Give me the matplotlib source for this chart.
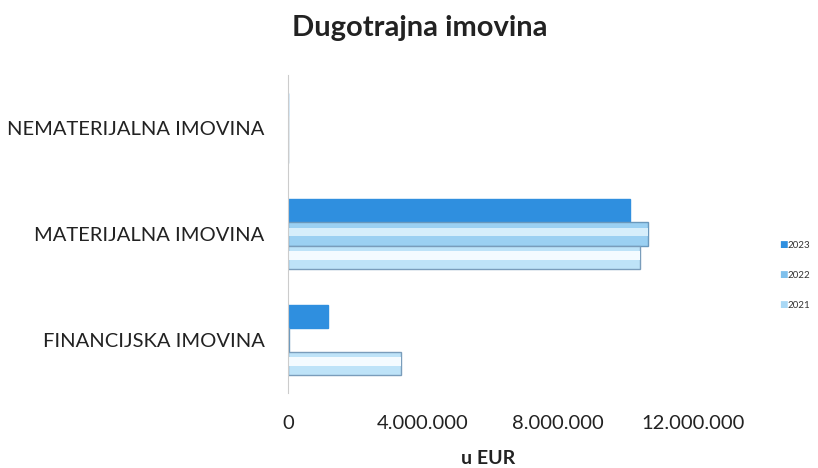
import matplotlib
matplotlib.use("Agg")
import matplotlib.pyplot as plt
import numpy as np

categories = ["FINANCIJSKA IMOVINA", "MATERIJALNA IMOVINA", "NEMATERIJALNA IMOVINA"]
years = ["2023", "2022", "2021"]
values_2023 = [1180000, 10130000, 5000]
values_2022 = [25000, 10670000, 5000]
values_2021 = [3350000, 10430000, 5000]
xticks = [0, 4000000, 8000000, 12000000]
xtick_labels = ["0", "4.000.000", "8.000.000", "12.000.000"]

plt.rcParams['font.family'] = ['Lato', 'DejaVu Sans']

fig = plt.figure(figsize=(8.18, 4.68), dpi=100)
ax = fig.add_axes([288/818, 1-393/468, (693-288)/818, (393-75)/468])

y = np.arange(len(categories))
h = 0.222
series = [
    (values_2023, h, "#2F8FDF", "#2F8FDF", None),
    (values_2022, 0.0, "#9BD0F2", "#6A98BC", "#D6EEFB"),
    (values_2021, -h, "#BEE3F8", "#7A9DBB", "#F4FBFF"),
]
for vals, off, col, edge, hl in series:
    ax.barh(y + off, vals, height=h, color=col, edgecolor=edge, linewidth=1.0)
    if hl is not None:
        ax.barh(y + off + 0.02, vals, height=h*0.35, color=hl, linewidth=0)

ax.set_xlim(0, 12000000)
ax.set_ylim(-0.5, 2.5)
ax.set_yticks(y)
ax.set_yticklabels(categories, fontsize=14.5, color="#222222")
ax.set_xticks(xticks)
ax.set_xticklabels(xtick_labels, fontsize=14.5, color="#222222")
ax.tick_params(axis='both', length=0)
ax.tick_params(axis='y', pad=17)
ax.tick_params(axis='x', pad=16)
for s in ["top", "right", "bottom"]:
    ax.spines[s].set_visible(False)
ax.spines["left"].set_color("#CCCCCC")
ax.spines["left"].set_linewidth(0.8)

fig.text(488/818, 1-459/468, "u EUR", ha="center", va="center", fontsize=14, fontweight="bold", color="#222222")
fig.text(420/818, 1-28/468, "Dugotrajna imovina", ha="center", va="center", fontsize=21, fontweight="bold", color="#222222")

leg_cols = ["#2F8FDF", "#7FC0EC", "#A9D8F5"]
leg_y = [245, 275, 305]
for yy, c, lab in zip(leg_y, leg_cols, years):
    fig.text(783/818, 1-yy/468, "\u25A0", color=c, fontsize=6.5, ha="center", va="center", family="DejaVu Sans")
    fig.text(788/818, 1-yy/468, lab, color="#333333", fontsize=7, ha="left", va="center")

fig.savefig("out.png", dpi=100)
